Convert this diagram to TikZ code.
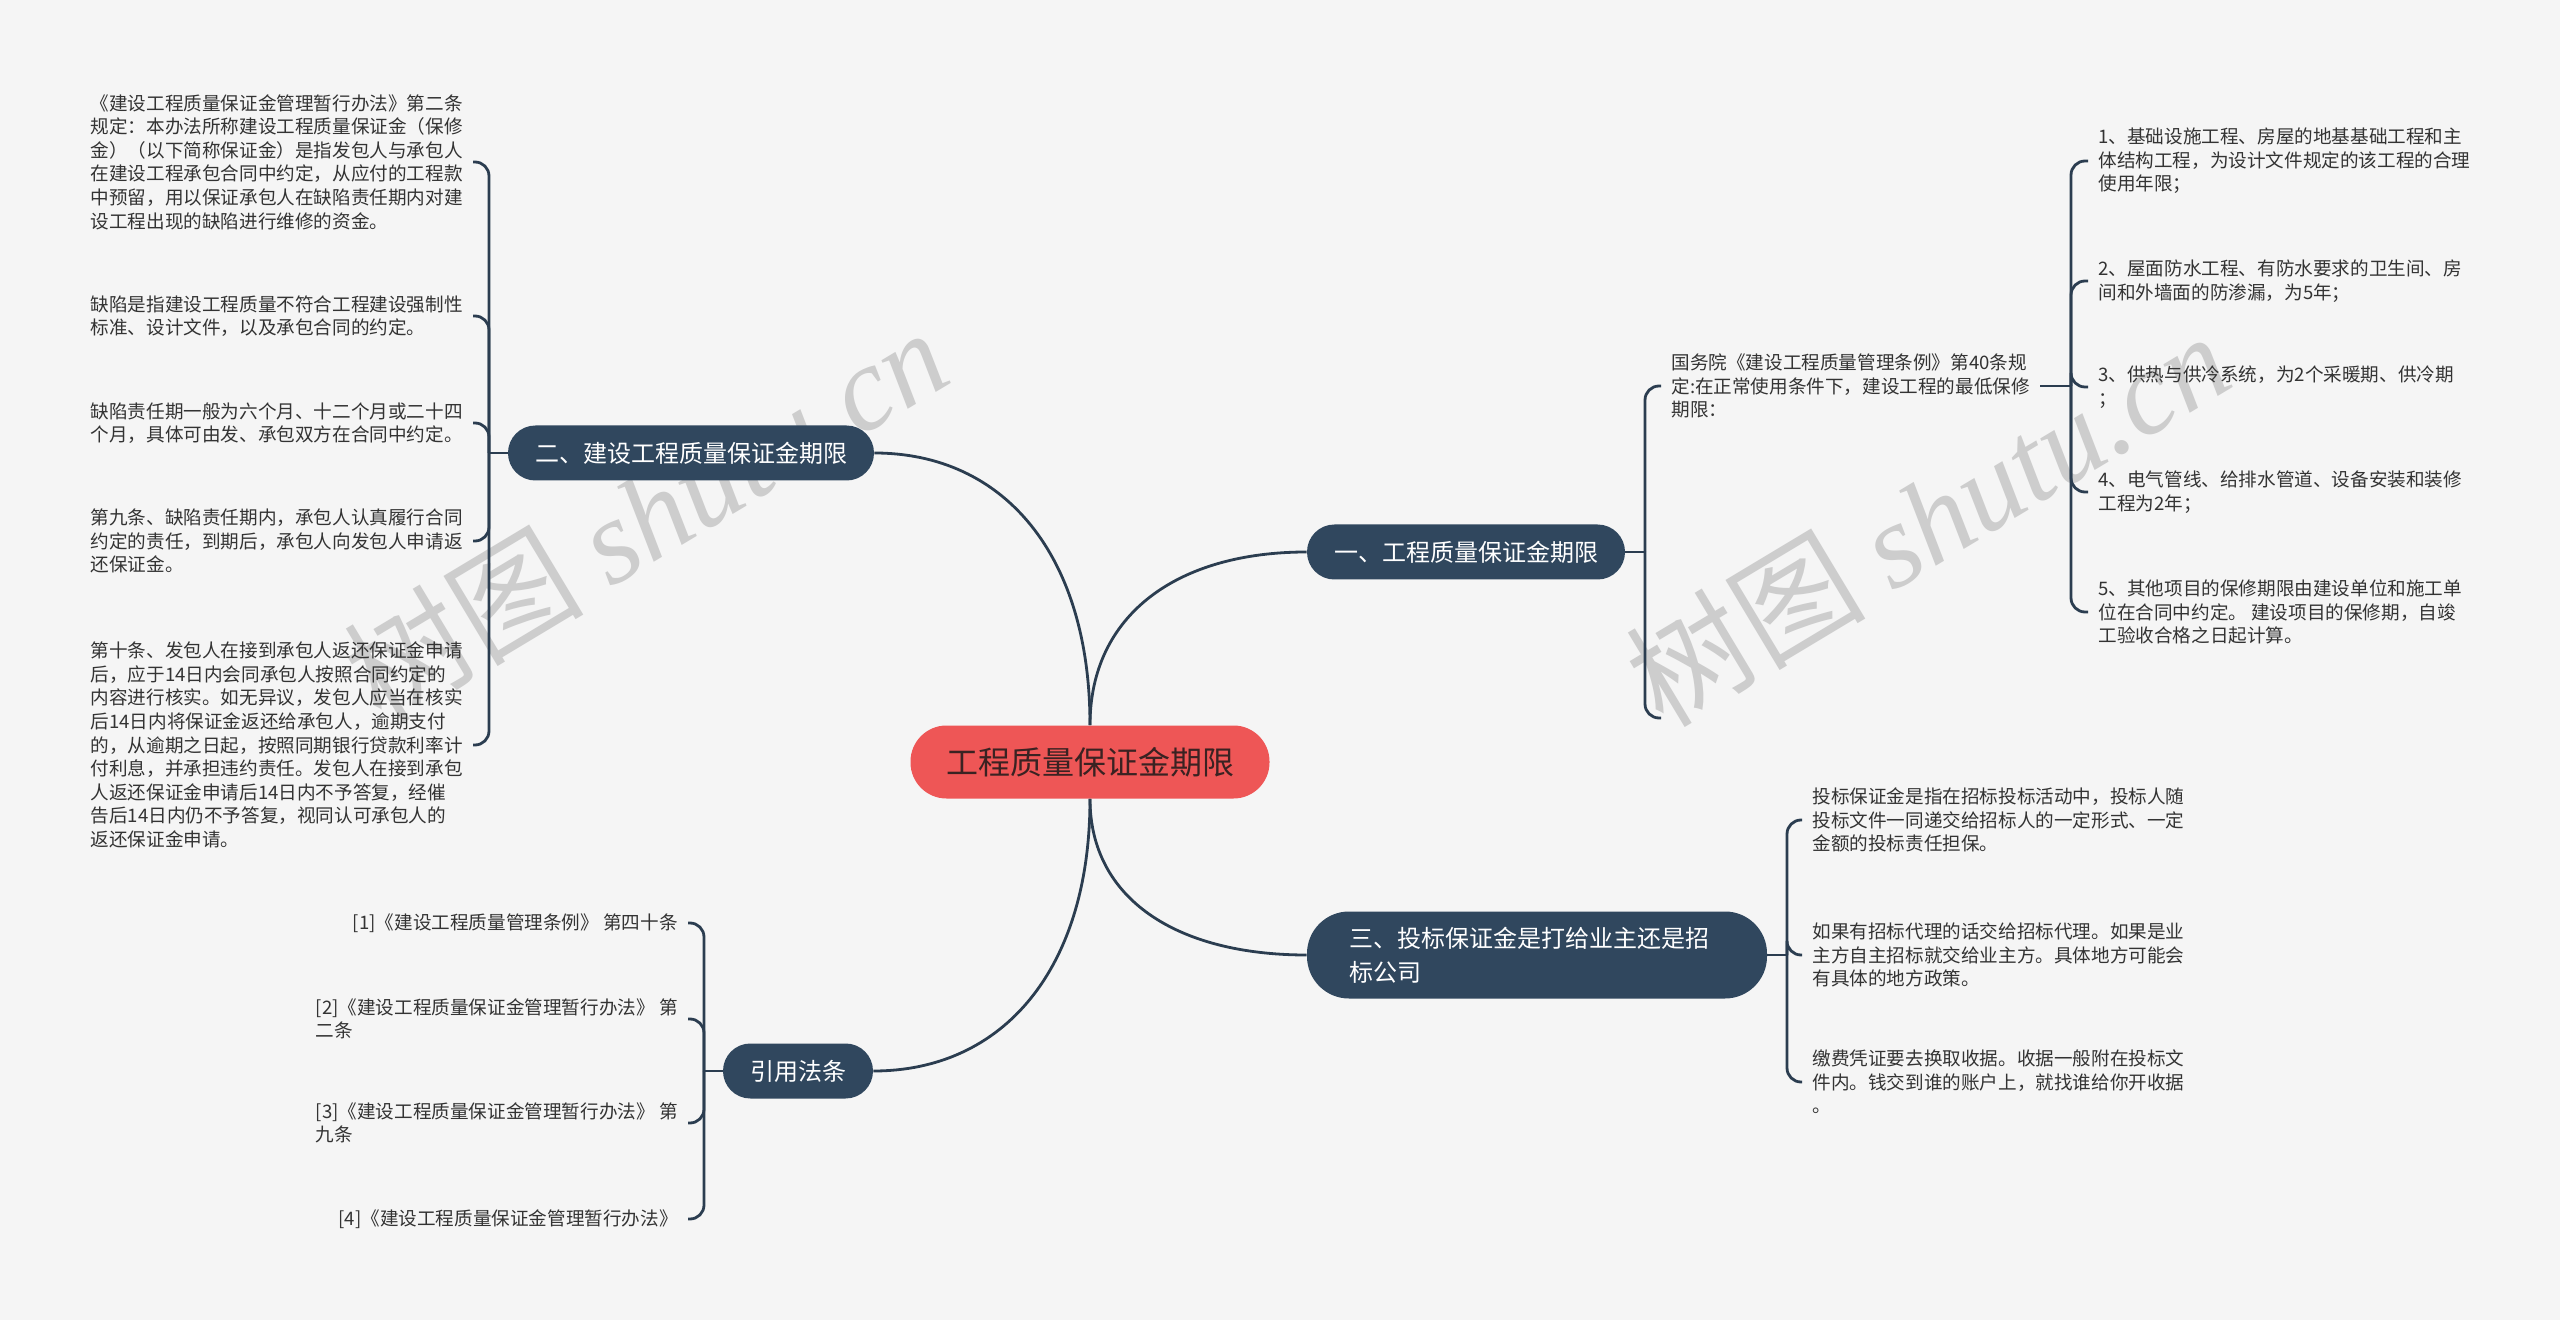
\documentclass[tikz,border=0pt]{standalone}
\usepackage{fontspec}
\setmainfont{Noto Sans CJK SC}
\newfontfamily\wmlatin{Liberation Serif}
\definecolor{bg}{HTML}{F5F5F5}
\definecolor{rootred}{HTML}{EE5656}
\definecolor{roottext}{HTML}{3A2222}
\definecolor{branchblue}{HTML}{30475E}
\definecolor{linkblue}{HTML}{2B3D50}
\definecolor{leafgray}{HTML}{333333}
\definecolor{wmgray}{HTML}{CDCDCD}

\begin{document}
\begin{tikzpicture}
    [x=0.5pt, y=-0.5pt,
    link/.style={draw=linkblue, line width=1.4pt},
    brace/.style={link, rounded corners=7pt},
    topic/.style={fill=rootred, text=roottext, rounded corners=18pt, minimum height=36.5pt,
        inner xsep=17.75pt, inner ysep=0pt, font=\fontsize{16}{20}\selectfont},
    branch/.style={fill=branchblue, text=white, rounded corners=13.7pt, minimum height=27.5pt,
        inner xsep=13.5pt, inner ysep=0pt, align=left, font=\fontsize{12}{17}\selectfont},
    leaf/.style={inner xsep=5pt, inner ysep=2pt, align=left, text=leafgray,
        font=\fontsize{9.3}{11.8}\selectfont},
    wmark/.style={text=wmgray, inner sep=0pt, rotate=31, font=\fontsize{60}{60}\selectfont}]
        \useasboundingbox (0,0) rectangle (2560,1320);
        \fill[bg] (0,0) rectangle (2560,1320);

        %% watermark
        \node[wmark] (wm1) at (645,514) {树图 {\wmlatin\itshape shutu.cn}};
        \node[wmark] (wm2) at (1927,518) {树图 {\wmlatin\itshape shutu.cn}};

        %% centre and branches
        \node[topic] (root) at (1090,762) {工程质量保证金期限};
        \node[branch] (b1) at (1466,552) {一、工程质量保证金期限};
        \node[branch] (b2) at (691,453) {二、建设工程质量保证金期限};
        \node[branch, minimum height=43.5pt, text width=188pt, inner xsep=21pt,
            rounded corners=21pt] (b3) at (1537,955) {三、投标保证金是打给业主还是招\\标公司};
        \node[branch] (b4) at (798,1071) {引用法条};

        \draw[link] (root.north) .. controls +(0,-110) and +(-130,0) .. (b1.west);
        \draw[link] (root.north) .. controls +(0,-170) and +(130,0) .. (b2.east);
        \draw[link] (root.south) .. controls +(0,100) and +(-130,0) .. (b3.west);
        \draw[link] (root.south) .. controls +(0,170) and +(130,0) .. (b4.east);

        %% branch one
        \coordinate (j1) at (1645,552);
        \coordinate (g0) at (1661,718);
        \node[leaf, anchor=west] (g) at (1661,386) {国务院《建设工程质量管理条例》第40条规\\定:在正常使用条件下，建设工程的最低保修\\期限：};
        \draw[link] (b1.east) -- (j1);
        \draw[brace] (j1) |- (g.west);
        \draw[brace] (j1) |- (g0);

        \coordinate (jg) at (2071,386);
        \node[leaf, anchor=west] (k1) at (2088,161) {1、基础设施工程、房屋的地基基础工程和主\\体结构工程，为设计文件规定的该工程的合理\\使用年限；};
        \node[leaf, anchor=west] (k2) at (2088,281) {2、屋面防水工程、有防水要求的卫生间、房\\间和外墙面的防渗漏，为5年；};
        \node[leaf, anchor=west] (k3) at (2088,387) {3、供热与供冷系统，为2个采暖期、供冷期\\；};
        \node[leaf, anchor=west] (k4) at (2088,492) {4、电气管线、给排水管道、设备安装和装修\\工程为2年；};
        \node[leaf, anchor=west] (k5) at (2088,612) {5、其他项目的保修期限由建设单位和施工单\\位在合同中约定。 建设项目的保修期，自竣\\工验收合格之日起计算。};
        \draw[link] (g.east) -- (jg);
        \foreach \c in {k1,k2,k3,k4,k5}
            \draw[brace] (jg) |- (\c.west);

        %% branch two
        \coordinate (j2) at (489,453);
        \node[leaf, anchor=east] (a1) at (473,162) {《建设工程质量保证金管理暂行办法》第二条\\规定：本办法所称建设工程质量保证金（保修\\金）（以下简称保证金）是指发包人与承包人\\在建设工程承包合同中约定，从应付的工程款\\中预留，用以保证承包人在缺陷责任期内对建\\设工程出现的缺陷进行维修的资金。};
        \node[leaf, anchor=east] (a2) at (473,316) {缺陷是指建设工程质量不符合工程建设强制性\\标准、设计文件，以及承包合同的约定。};
        \node[leaf, anchor=east] (a3) at (473,423) {缺陷责任期一般为六个月、十二个月或二十四\\个月，具体可由发、承包双方在合同中约定。};
        \node[leaf, anchor=east] (a4) at (473,541) {第九条、缺陷责任期内，承包人认真履行合同\\约定的责任，到期后，承包人向发包人申请返\\还保证金。};
        \node[leaf, anchor=east] (a5) at (473,745) {第十条、发包人在接到承包人返还保证金申请\\后，应于14日内会同承包人按照合同约定的\\内容进行核实。如无异议，发包人应当在核实\\后14日内将保证金返还给承包人，逾期支付\\的，从逾期之日起，按照同期银行贷款利率计\\付利息，并承担违约责任。发包人在接到承包\\人返还保证金申请后14日内不予答复，经催\\告后14日内仍不予答复，视同认可承包人的\\返还保证金申请。};
        \draw[link] (b2.west) -- (j2);
        \foreach \c in {a1,a2,a3,a4,a5}
            \draw[brace] (j2) |- (\c.east);

        %% branch three
        \coordinate (j3) at (1787,955);
        \node[leaf, anchor=west] (l1) at (1802,820) {投标保证金是指在招标投标活动中，投标人随\\投标文件一同递交给招标人的一定形式、一定\\金额的投标责任担保。};
        \node[leaf, anchor=west] (l2) at (1802,955) {如果有招标代理的话交给招标代理。如果是业\\主方自主招标就交给业主方。具体地方可能会\\有具体的地方政策。};
        \node[leaf, anchor=west] (l3) at (1802,1082) {缴费凭证要去换取收据。收据一般附在投标文\\件内。钱交到谁的账户上，就找谁给你开收据\\。};
        \draw[link] (b3.east) -- (j3);
        \foreach \c in {l1,l2,l3}
            \draw[brace] (j3) |- (\c.west);

        %% references
        \coordinate (j4) at (704,1071);
        \node[leaf, anchor=east] (r1) at (688,923) {[1]《建设工程质量管理条例》 第四十条};
        \node[leaf, anchor=east] (r2) at (688,1019) {[2]《建设工程质量保证金管理暂行办法》 第\\二条};
        \node[leaf, anchor=east] (r3) at (688,1123) {[3]《建设工程质量保证金管理暂行办法》 第\\九条};
        \node[leaf, anchor=east] (r4) at (688,1219) {[4]《建设工程质量保证金管理暂行办法》};
        \draw[link] (b4.west) -- (j4);
        \foreach \c in {r1,r2,r3,r4}
            \draw[brace] (j4) |- (\c.east);
    \end{tikzpicture}
\end{document}
